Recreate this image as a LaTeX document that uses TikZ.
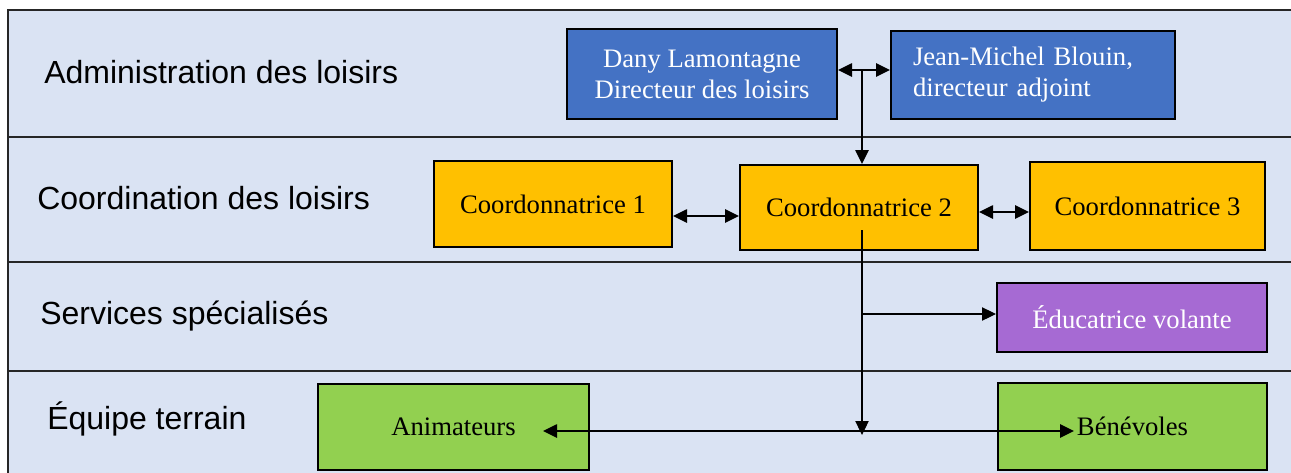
\documentclass[tikz,border=0pt]{standalone}
\usepackage{fontspec}
\setmainfont{Liberation Serif}
\newfontfamily\bandfont{Liberation Sans}
\usetikzlibrary{arrows.meta}

\definecolor{bandblue}{HTML}{DAE3F3}
\definecolor{adminblue}{HTML}{4472C4}
\definecolor{coordgold}{HTML}{FFC000}
\definecolor{servpurple}{HTML}{A66AD3}
\definecolor{teamgreen}{HTML}{92D050}
\definecolor{framegray}{HTML}{262626}

\begin{document}
\begin{tikzpicture}[x=0.75pt,y=-0.75pt]
\useasboundingbox (0,0) rectangle (1291,472);

% bands
\begin{scope}
    \clip (0,0) rectangle (1291,472);
    \draw [framegray,line width=1.5pt,fill=bandblue] (8,10) rectangle (1300,480);
    \foreach \y in {137,262,371}
        \draw [framegray,line width=1.5pt] (8,\y) -- (1300,\y);
\end{scope}

\begin{scope}[every node/.style={anchor=base west,inner sep=0pt,
                                 font=\bandfont\fontsize{24}{28}\selectfont}]
    \node (admin) at (44,83) {Administration des loisirs};
    \node (coord) at (37,209) {Coordination des loisirs};
    \node (serv) at (40,324) {Services spécialisés};
    \node (team) at (47,429) {Équipe terrain};
\end{scope}

\begin{scope}[every node/.style={draw=black,line width=1.5pt,align=center,
                                 font=\fontsize{20}{23.25}\selectfont}]
    \node [fill=adminblue,text=white,minimum width=202.5pt,minimum height=67.5pt]
        (dir) at (702,74) {Dany Lamontagne\\Directeur des loisirs};
    \node [fill=adminblue,text=white,text width=180pt,align=left,inner xsep=16.5pt,
           minimum height=66pt]
        (adj) at (1033,75) {Jean-Michel Blouin,\\directeur adjoint};
    \node [fill=coordgold,minimum width=178.5pt,minimum height=64.5pt]
        (c1) at (553,204) {Coordonnatrice 1};
    \node [fill=coordgold,minimum width=178.5pt,minimum height=63.75pt]
        (c2) at (859,207.5) {Coordonnatrice 2};
    \node [fill=coordgold,minimum width=176.25pt,minimum height=66pt]
        (c3) at (1147.5,206) {Coordonnatrice 3};
    \node [fill=servpurple,text=white,minimum width=202.5pt,minimum height=51.75pt]
        (educ) at (1132,317.5) {Éducatrice volante};
    \node [fill=teamgreen,minimum width=203.25pt,minimum height=64.5pt]
        (anim) at (453.5,427) {Animateurs};
    \node [fill=teamgreen,minimum width=201.75pt,minimum height=65.25pt]
        (bene) at (1132.5,426.5) {Bénévoles};
\end{scope}

\coordinate (hub) at (862,70);
\coordinate (c12) at (706,216);
\coordinate (c23) at (1004,212);
\coordinate (drop) at (862,230);
\coordinate (fork) at (862,314);
\coordinate (split) at (862,435);
\coordinate (animtip) at (543,431);
\coordinate (benetip) at (1074,431);

\begin{scope}[>={Triangle[length=10.5pt,width=10pt]},
              every edge/.style={draw=black,line width=1.2pt}]
    \path [<->] (dir.east |- hub) edge (adj.west |- hub);
    \path [->] (hub) edge (hub |- c2.north);
    \path [<->] (c1.east |- c12) edge (c2.west |- c12);
    \path [<->] (c2.east |- c23) edge (c3.west |- c23);
    \path [->] (drop) edge [line width=0.8pt] (split);
    \path [->] (fork) edge [line width=0.8pt] (educ.west |- fork);
    \path [<->] (animtip) edge (benetip);
\end{scope}
\end{tikzpicture}
\end{document}
